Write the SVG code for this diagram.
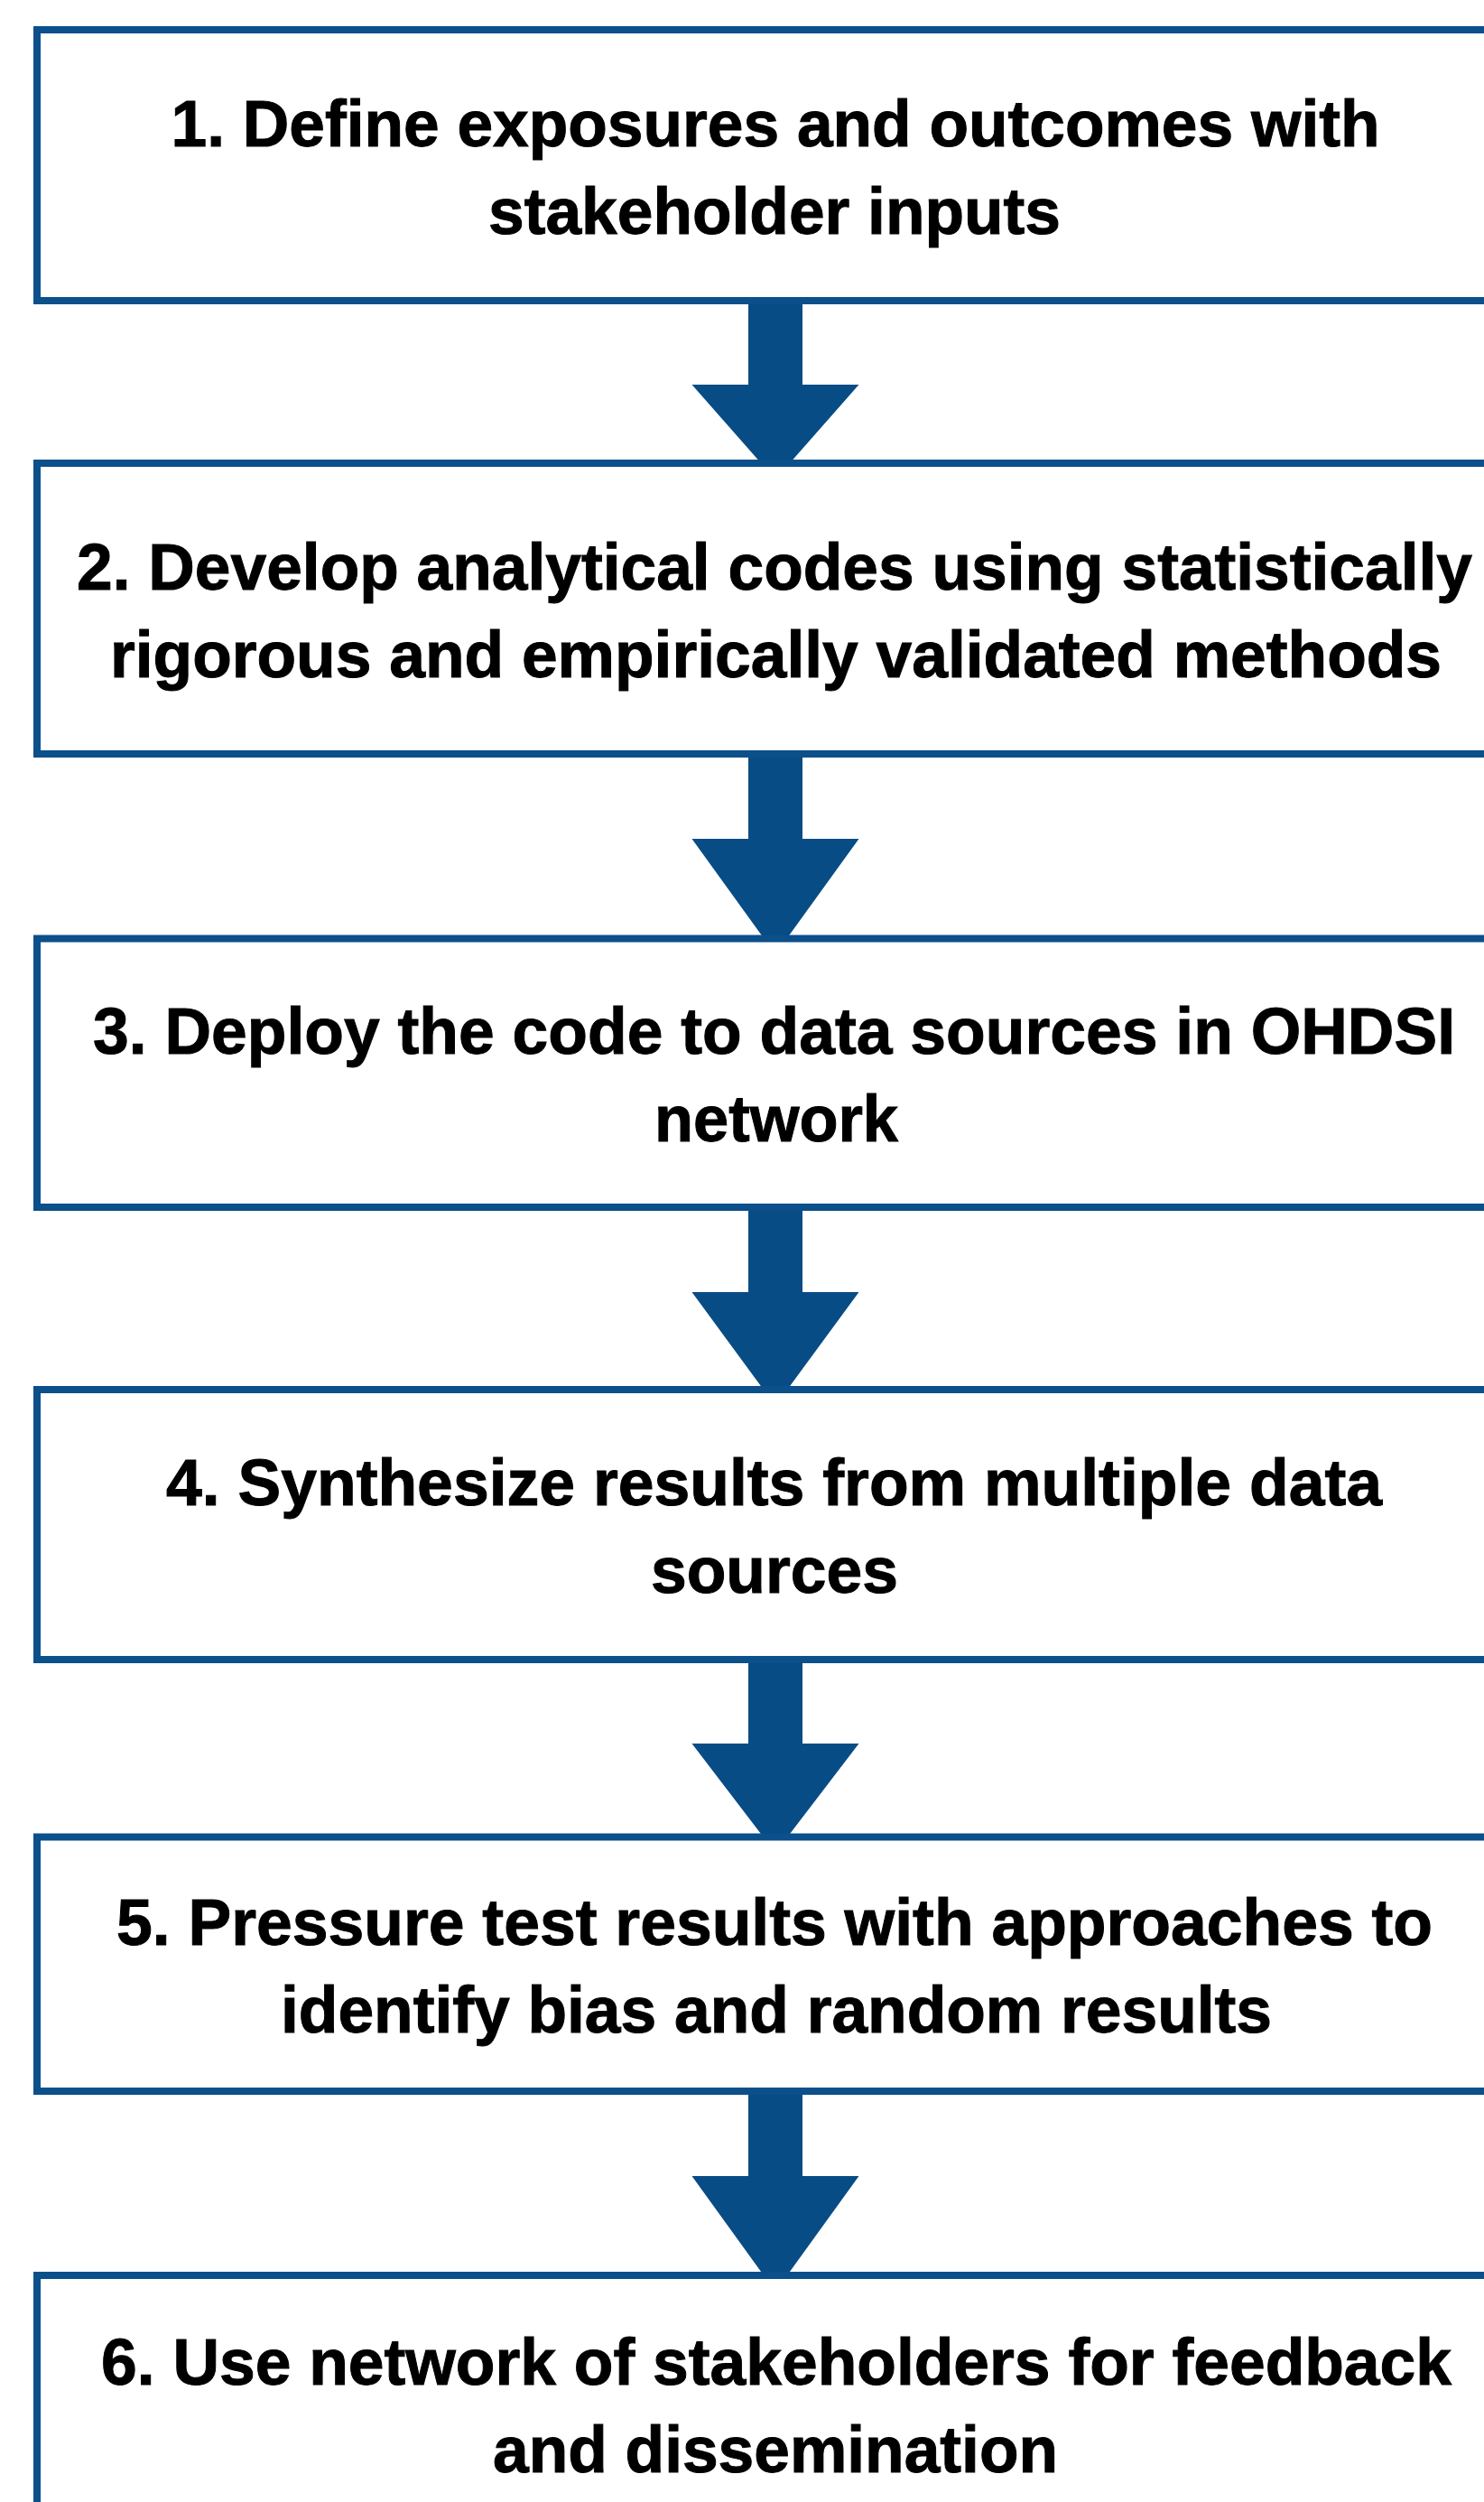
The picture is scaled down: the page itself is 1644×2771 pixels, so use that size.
<svg xmlns="http://www.w3.org/2000/svg" width="1644" height="2771" viewBox="0 0 1644 2771">
  <style>
    .box { fill: #ffffff; stroke: #0b4f8b; stroke-width: 8; }
    .arrow { fill: #084c85; stroke: none; }
    .label { font-family: "Liberation Sans", Arial, Helvetica, sans-serif; font-weight: bold; font-size: 72px; fill: #000000; stroke: #000000; stroke-width: 1; text-anchor: middle; }
  </style>
  <rect x="0" y="0" width="1644" height="2771" fill="#ffffff"/>

  <!-- block arrows between the steps (drawn first, tips tucked under the next box) -->
  <g id="connectors">
    <polygon class="arrow" points="829,320 889,320 889,426 951.5,426 859,531 766.5,426 829,426"/>
    <polygon class="arrow" points="829,820 889,820 889,929 951.5,929 859,1057 766.5,929 829,929"/>
    <polygon class="arrow" points="829,1320 889,1320 889,1431 951.5,1431 859,1557 766.5,1431 829,1431"/>
    <polygon class="arrow" points="829,1820 889,1820 889,1931 951.5,1931 859,2052 766.5,1931 829,1931"/>
    <polygon class="arrow" points="829,2300 889,2300 889,2410 951.5,2410 859,2538 766.5,2410 829,2410"/>
  </g>

  <g id="step1">
    <rect class="box" x="41" y="33" width="1636" height="300"/>
    <text class="label" x="859" y="161.5" textLength="1339" lengthAdjust="spacingAndGlyphs">1. Define exposures and outcomes with</text>
    <text class="label" x="858" y="258.5" textLength="634" lengthAdjust="spacingAndGlyphs">stakeholder inputs</text>
  </g>

  <g id="step2">
    <rect class="box" x="41" y="513" width="1636" height="322"/>
    <text class="label" x="858" y="653" textLength="1546" lengthAdjust="spacingAndGlyphs">2. Develop analytical codes using statistically</text>
    <text class="label" x="859.5" y="750" textLength="1475" lengthAdjust="spacingAndGlyphs">rigorous and empirically validated methods</text>
  </g>

  <g id="step3">
    <rect class="box" x="41" y="1039.5" width="1636" height="297.5"/>
    <text class="label" x="857.5" y="1166.5" textLength="1509" lengthAdjust="spacingAndGlyphs">3. Deploy the code to data sources in OHDSI</text>
    <text class="label" x="860" y="1263.5" textLength="270" lengthAdjust="spacingAndGlyphs">network</text>
  </g>

  <g id="step4">
    <rect class="box" x="41" y="1539" width="1636" height="299"/>
    <text class="label" x="857.5" y="1667" textLength="1347" lengthAdjust="spacingAndGlyphs">4. Synthesize results from multiple data</text>
    <text class="label" x="858" y="1764" textLength="274" lengthAdjust="spacingAndGlyphs">sources</text>
  </g>

  <g id="step5">
    <rect class="box" x="41" y="2034.5" width="1636" height="281.5"/>
    <text class="label" x="858" y="2153.5" textLength="1458" lengthAdjust="spacingAndGlyphs">5. Pressure test results with approaches to</text>
    <text class="label" x="860" y="2250.5" textLength="1098" lengthAdjust="spacingAndGlyphs">identify bias and random results</text>
  </g>

  <g id="step6">
    <rect class="box" x="41" y="2520" width="1636" height="290"/>
    <text class="label" x="860" y="2641" textLength="1496" lengthAdjust="spacingAndGlyphs">6. Use network of stakeholders for feedback</text>
    <text class="label" x="859" y="2738" textLength="626" lengthAdjust="spacingAndGlyphs">and dissemination</text>
  </g>
</svg>
